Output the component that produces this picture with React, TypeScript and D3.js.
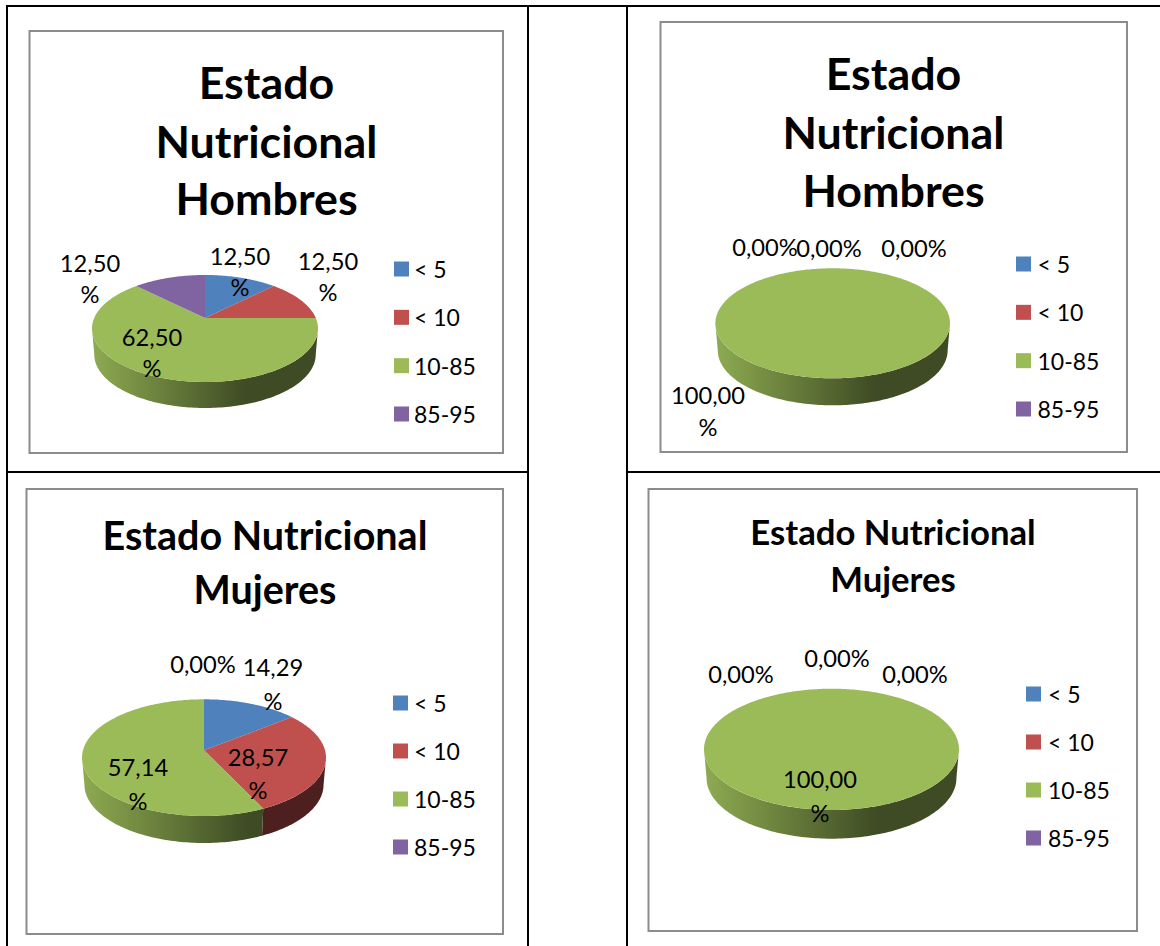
import React from "react";
import * as d3 from "d3";

const categories = ["< 5", "< 10", "10-85", "85-95"];
const colors = ["#4F81BD", "#C0504D", "#9BBB59", "#8064A2"];
const valuesA = [12.5, 12.5, 62.5, 12.5];
const valuesB = [0, 0, 100, 0];
const valuesC = [14.29, 28.57, 57.14, 0];
const valuesD = [0, 0, 100, 0];
const titleA = ["Estado", "Nutricional", "Hombres"];
const titleB = ["Estado", "Nutricional", "Hombres"];
const titleC = ["Estado Nutricional", "Mujeres"];
const titleD = ["Estado Nutricional", "Mujeres"];

type P = {
  id: string; values: number[]; title: string[]; box: number[];
  cx: number; top: number; bottom: number; rx: number; k: number; depth: number;
  titleX: number; titleY: number[]; titleSize: number;
  legendX: number; legendTextX: number; legendY: number[];
  labels: (number[])[]; // [x, y, y2?] by category; y2 means the % wraps
};

const panels: P[] = [
  { id: "a", values: valuesA, title: titleA, box: [29.5, 31, 503, 453], cx: 205, top: 275, bottom: 382, rx: 113, k: 0.196, depth: 26,
    titleX: 266.5, titleY: [82, 141, 198], titleSize: 44.8, legendX: 394, legendTextX: 414, legendY: [269, 317.5, 366, 414],
    labels: [[240, 255.5, 286.5], [328, 260.5, 291.5], [152, 336.5, 367.5], [90, 262.5, 293.5]] },
  { id: "b", values: valuesB, title: titleB, box: [660.5, 22, 1127, 452], cx: 832.7, top: 268.3, bottom: 378.3, rx: 117.3, k: 0.17, depth: 27,
    titleX: 893.5, titleY: [73, 132, 190], titleSize: 44.8, legendX: 1016, legendTextX: 1037.5, legendY: [264, 312.5, 361, 409],
    labels: [[914, 247.5], [829, 247.5], [708, 394.5, 426.5], [765, 246.5]] },
  { id: "c", values: valuesC, title: titleC, box: [26.5, 489, 503, 934], cx: 204, top: 699.3, bottom: 816, rx: 122, k: 0.126, depth: 27,
    titleX: 265, titleY: [534, 588], titleSize: 39.5, legendX: 393, legendTextX: 414, legendY: [703, 751, 799, 847],
    labels: [[273, 666.5, 700.5], [258, 756.5, 789.5], [138, 766.5, 800.5], [203, 663.5]] },
  { id: "d", values: valuesD, title: titleD, box: [648.5, 489, 1137, 931], cx: 831.5, top: 688.7, bottom: 810, rx: 127.5, k: 0.15, depth: 28.7,
    titleX: 893, titleY: [531, 578], titleSize: 34.7, legendX: 1026, legendTextX: 1048, legendY: [694, 742, 790, 838],
    labels: [[915, 673.5], [837, 657.5], [820, 778.5, 812.5], [741, 673.5]] },
];

const gridV = [7, 528, 627];
const gridTop = 6;
const gridMid = 472;
const FONT = "Lato, 'Open Sans', sans-serif";
const color = d3.scaleOrdinal<string, string>().domain(categories).range(colors);
const fmt = (v: number) => v.toFixed(2).replace(".", ",");

function project(p: P, theta: number, shrink = 1, dy = 0): [number, number] {
  const B = ((p.bottom - p.top) * (1 - p.k * p.k)) / 2;
  const ay = p.top + B / (1 + p.k);
  const A = p.rx * Math.sqrt(1 - p.k * p.k) * shrink;
  const w = 1 + p.k * Math.cos(theta);
  return [p.cx + (A * Math.sin(theta)) / w, ay - (B * Math.cos(theta)) / w + dy];
}
const line = d3.line();
const samples = (a: number, b: number) => {
  const n = Math.max(2, Math.ceil((b - a) / 0.02));
  return d3.range(n + 1).map((i) => a + ((b - a) * i) / n);
};

function Pie3D({ p }: { p: P }) {
  const arcs = d3.pie<number>().sort(null)(p.values);
  const front0 = Math.acos(-p.k);
  const front1 = 2 * Math.PI - front0;
  const x0 = p.cx - p.rx, x1 = p.cx + p.rx;
  const apex = project(p, Math.PI / 2);
  const apexPt: [number, number] = [p.cx, apex[1]];
  return (
    <g>
      <defs>
        {categories.map((c, i) => (
          <linearGradient key={c} id={`w-${p.id}-${i}`} gradientUnits="userSpaceOnUse" x1={x0} x2={x1} y1={0} y2={0}>
            <stop offset="0" stopColor={d3.rgb(colors[i]).darker(0.25).formatHex()} />
            <stop offset="0.68" stopColor={d3.rgb(colors[i]).darker(2.55).formatHex()} />
            <stop offset="1" stopColor={d3.rgb(colors[i]).darker(2.55).formatHex()} />
          </linearGradient>
        ))}
      </defs>
      {arcs.map((a, i) => {
        const s = Math.max(a.startAngle, front0), e = Math.min(a.endAngle, front1);
        if (e <= s) return null;
        const t = samples(s, e);
        const pts = [...t.map((th) => project(p, th)), ...t.slice().reverse().map((th) => project(p, th, 0.98, p.depth))];
        return <path key={i} d={line(pts) + "Z"} fill={`url(#w-${p.id}-${i})`} />;
      })}
      {arcs.map((a, i) => {
        if (a.endAngle <= a.startAngle) return null;
        const rim = samples(a.startAngle, a.endAngle).map((th) => project(p, th));
        const full = a.endAngle - a.startAngle >= 2 * Math.PI - 1e-6;
        return <path key={i} d={line(full ? rim : [apexPt, ...rim]) + "Z"} fill={color(categories[i])} />;
      })}
    </g>
  );
}

function Panel({ p }: { p: P }) {
  const [l, t, r, b] = p.box;
  const legY = d3.scalePoint<string>().domain(categories).range([p.legendY[0], p.legendY[3]]);
  return (
    <g fontFamily={FONT} fill="#000">
      <rect x={l} y={t} width={r - l} height={b - t} fill="#fff" stroke="#8c8c8c" strokeWidth={2} />
      <Pie3D p={p} />
      {p.title.map((s, i) => (
        <text key={i} x={p.titleX} y={p.titleY[i]} textAnchor="middle" dominantBaseline="central" fontWeight={700} fontSize={p.titleSize}>{s}</text>
      ))}
      {p.labels.map((q, i) => (
        <g key={i} fontSize={23.7} textAnchor="middle">
          {q.length > 2 ? (
            <>
              <text x={q[0]} y={q[1]} dominantBaseline="central">{fmt(p.values[i])}</text>
              <text x={q[0]} y={q[2]} dominantBaseline="central">%</text>
            </>
          ) : (
            <text x={q[0]} y={q[1]} dominantBaseline="central">{fmt(p.values[i]) + "%"}</text>
          )}
        </g>
      ))}
      {categories.map((c) => (
        <g key={c}>
          <rect x={p.legendX} y={legY(c)! - 7.5} width={15} height={15} fill={color(c)} />
          <text x={p.legendTextX} y={legY(c)!} dominantBaseline="central" fontSize={23}>{c}</text>
        </g>
      ))}
    </g>
  );
}

export default function App() {
  return (
    <svg width={1160} height={946} viewBox="0 0 1160 946" style={{ position: "absolute", left: 0, top: 0, background: "#fff" }}>
      {gridV.map((x) => <line key={x} x1={x} x2={x} y1={gridTop - 1} y2={946} stroke="#000" strokeWidth={2} />)}
      <line x1={gridV[0]} x2={1160} y1={gridTop} y2={gridTop} stroke="#000" strokeWidth={2} />
      <line x1={gridV[0]} x2={gridV[1]} y1={gridMid} y2={gridMid} stroke="#000" strokeWidth={2} />
      <line x1={gridV[2]} x2={1160} y1={gridMid} y2={gridMid} stroke="#000" strokeWidth={2} />
      {panels.map((p) => <Panel key={p.id} p={p} />)}
    </svg>
  );
}
